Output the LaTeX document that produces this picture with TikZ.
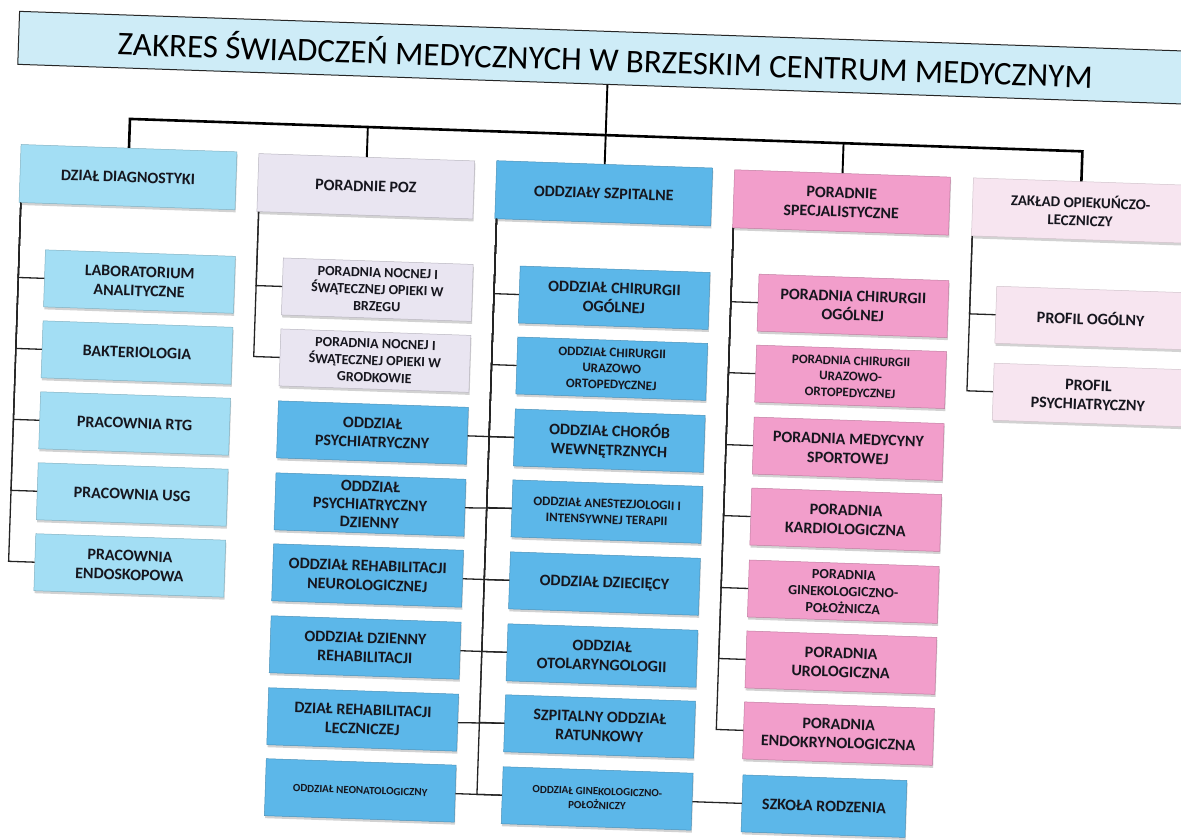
\documentclass[tikz,border=0pt]{standalone}
\usepackage{fontspec}
\setmainfont{Carlito}
\usetikzlibrary{shadows}
\definecolor{titlebg}{RGB}{206,236,247}
\definecolor{diag}{RGB}{163,222,244}
\definecolor{poz}{RGB}{233,229,241}
\definecolor{szp}{RGB}{92,183,233}
\definecolor{spec}{RGB}{242,158,203}
\definecolor{zakl}{RGB}{247,229,240}
\definecolor{txt}{RGB}{22,22,30}
\definecolor{lncol}{RGB}{35,35,35}
\tikzset{
  base/.style={rectangle, align=center, text=txt, inner sep=2pt,
    font=\bfseries\fontsize{16}{19}\selectfont, line width=0.5pt,
    drop shadow={shadow xshift=0.8pt, shadow yshift=-2.5pt, opacity=0.35}},
  hdr/.style={base, minimum width=216pt, minimum height=58pt},
  kid/.style={base, minimum width=190pt, minimum height=57pt},
  cdiag/.style={fill=diag, draw=diag!80!black},
  cpoz/.style={fill=poz, draw=poz!80!black},
  cszp/.style={fill=szp, draw=szp!80!black},
  cspec/.style={fill=spec, draw=spec!80!black},
  czak/.style={fill=zakl, draw=zakl!85!black},
  fmd/.style={font=\bfseries\fontsize{15}{18}\selectfont},
  fsm/.style={font=\bfseries\fontsize{14}{17}\selectfont},
  fxs/.style={font=\bfseries\fontsize{13}{16}\selectfont},
  fxxs/.style={font=\bfseries\fontsize{11}{14}\selectfont},
  ln/.style={draw=lncol, line width=1.3pt},
  ln2/.style={draw=black, line width=1.9pt},
  bus/.style={draw=black, line width=2.6pt},
}
\begin{document}
\begin{tikzpicture}[x=1pt,y=-1pt]
\useasboundingbox (0,0) rectangle (1181,840);
\clip (0,0) rectangle (1181,840);
\fill[white] (0,0) rectangle (1181,840);
\begin{scope}[transform canvas={rotate around={-1.95:(590,420)}}]
% title
\node[draw=black!85, line width=1pt, fill=titlebg, minimum width=1174pt, minimum height=53pt,
      font=\fontsize{33}{36}\selectfont, text=black, inner sep=0pt] (title) at (593,57.5)
      {ZAKRES ŚWIADCZEŃ MEDYCZNYCH W BRZESKIM CENTRUM MEDYCZNYM};
% headers
\node[hdr,cdiag] (dd)   at (120,193)  {DZIAŁ DIAGNOSTYKI};
\node[hdr,cpoz]  (poz)  at (358,194)  {PORADNIE POZ};
\node[hdr,cszp]  (szp)  at (596,193)  {ODDZIAŁY SZPITALNE};
\node[hdr,cspec] (spec) at (834,194)  {PORADNIE\\SPECJALISTYCZNE};
\node[hdr,czak,fmd]  (zak)  at (1073,194) {ZAKŁAD OPIEKUŃCZO-\\LECZNICZY};
% diagnostyka
\node[kid,cdiag] (lab)  at (135,297) {LABORATORIUM\\ANALITYCZNE};
\node[kid,cdiag] (bak)  at (135,368) {BAKTERIOLOGIA};
\node[kid,cdiag] (rtg)  at (135,439) {PRACOWNIA RTG};
\node[kid,cdiag] (usg)  at (135,510) {PRACOWNIA USG};
\node[kid,cdiag] (endo) at (135,581) {PRACOWNIA\\ENDOSKOPOWA};
% poz
\node[kid,cpoz,fsm] (brz) at (373,297) {PORADNIA NOCNEJ I\\ŚWĄTECZNEJ OPIEKI W\\BRZEGU};
\node[kid,cpoz,fsm] (gro) at (373,368) {PORADNIA NOCNEJ I\\ŚWĄTECZNEJ OPIEKI W\\GRODKOWIE};
% left blue
\node[kid,cszp] (psy)  at (373,440) {ODDZIAŁ\\PSYCHIATRYCZNY};
\node[kid,cszp,font=\bfseries\fontsize{16}{18}\selectfont] (psyd) at (373,512) {ODDZIAŁ\\PSYCHIATRYCZNY\\DZIENNY};
\node[kid,cszp] (neu)  at (373,583) {ODDZIAŁ REHABILITACJI\\NEUROLOGICZNEJ};
\node[kid,cszp] (dreh) at (373,655) {ODDZIAŁ DZIENNY\\REHABILITACJI};
\node[kid,cszp] (lecz) at (373,727) {DZIAŁ REHABILITACJI\\LECZNICZEJ};
\node[kid,cszp,fxxs] (neo) at (373,798) {ODDZIAŁ NEONATOLOGICZNY};
% right blue
\node[kid,cszp] (chog) at (610,297) {ODDZIAŁ CHIRURGII\\OGÓLNEJ};
\node[kid,cszp,fxs] (chur) at (610,368) {ODDZIAŁ CHIRURGII\\URAZOWO\\ORTOPEDYCZNEJ};
\node[kid,cszp] (chor) at (610,440) {ODDZIAŁ CHORÓB\\WEWNĘTRZNYCH};
\node[kid,cszp,fxs] (anes) at (610,511) {ODDZIAŁ ANESTEZJOLOGII I\\INTENSYWNEJ TERAPII};
\node[kid,cszp] (dzie) at (610,583) {ODDZIAŁ DZIECIĘCY};
\node[kid,cszp] (otol) at (610,655) {ODDZIAŁ\\OTOLARYNGOLOGII};
\node[kid,cszp] (sor)  at (610,726) {SZPITALNY ODDZIAŁ\\RATUNKOWY};
\node[kid,cszp,fxxs] (ginb) at (610,798) {ODDZIAŁ GINEKOLOGICZNO-\\POŁOŻNICZY};
\node[base,cszp,minimum width=164pt,minimum height=57pt] (szk) at (837,798) {SZKOŁA RODZENIA};
% pink
\node[kid,cspec] (pchog) at (849,297) {PORADNIA CHIRURGII\\OGÓLNEJ};
\node[kid,cspec,fxs] (pchur) at (849,368) {PORADNIA CHIRURGII\\URAZOWO-\\ORTOPEDYCZNEJ};
\node[kid,cspec] (pmed) at (849,440) {PORADNIA MEDYCYNY\\SPORTOWEJ};
\node[kid,cspec] (pkar) at (849,511) {PORADNIA\\KARDIOLOGICZNA};
\node[kid,cspec,fsm] (pgin) at (849,583) {PORADNIA\\GINEKOLOGICZNO-\\POŁOŻNICZA};
\node[kid,cspec] (puro) at (849,654) {PORADNIA\\UROLOGICZNA};
\node[kid,cspec] (pend) at (849,725) {PORADNIA\\ENDOKRYNOLOGICZNA};
% zaklad
\node[kid,czak] (pog)  at (1087,301) {PROFIL OGÓLNY};
\node[kid,czak] (ppsy) at (1087,378) {PROFIL\\PSYCHIATRYCZNY};
% connectors
\draw[ln2] (szp.north |- title.south) -- (szp.north);
\draw[bus] (dd.north) -- ++(0,-29) -| (zak.north);
\draw[ln2] (poz.north) -- ++(0,-30);
\draw[ln2] (spec.north) -- ++(0,-30);
\foreach \c in {lab,bak,rtg,usg,endo}
  \draw[ln] ([xshift=2pt]dd.south west) |- (\c.west);
\foreach \c in {brz,gro}
  \draw[ln] ([xshift=2pt]poz.south west) |- (\c.west);
\foreach \c in {chog,chur,chor,anes,dzie,otol,sor,ginb}
  \draw[ln] ([xshift=2pt]szp.south west) |- (\c.west);
\draw[ln] (psy.east) -- (chor.west);
\draw[ln] (psyd.east) -- (anes.west);
\draw[ln] (neu.east) -- (dzie.west);
\draw[ln] (dreh.east) -- (otol.west);
\draw[ln] (lecz.east) -- (sor.west);
\draw[ln] (neo.east) -- (ginb.west);
\draw[ln] (ginb.east) -- (szk.west);
\foreach \c in {pchog,pchur,pmed,pkar,pgin,puro,pend}
  \draw[ln] ([xshift=1pt]spec.south west) |- (\c.west);
\foreach \c in {pog,ppsy}
  \draw[ln] ([xshift=1pt]zak.south west) |- (\c.west);
\end{scope}
\end{tikzpicture}
\end{document}
